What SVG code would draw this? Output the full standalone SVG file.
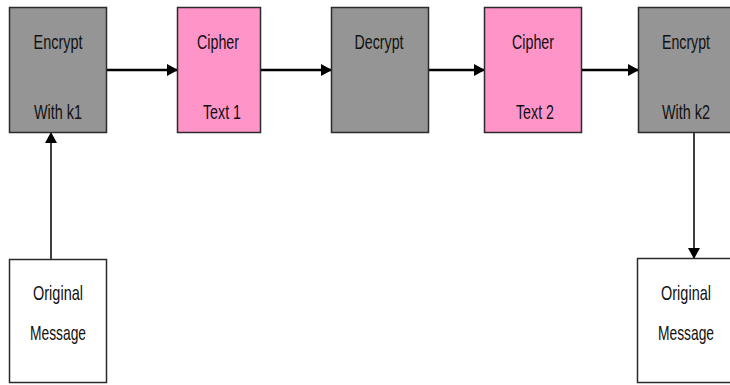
<svg xmlns="http://www.w3.org/2000/svg" width="730" height="385" viewBox="0 0 730 385">
  <style>
    .box { stroke: #2b2b2b; stroke-width: 1.5; }
    .gray { fill: #959595; }
    .pink { fill: #ff94c9; }
    .white { fill: #ffffff; }
    text { font-family: "Liberation Sans Narrow", "Liberation Sans", Arial, sans-serif; font-size: 21px; fill: #111; text-anchor: middle; }
    .link { stroke: #000; fill: none; }
  </style>
  <defs>
    <marker id="arrow" markerWidth="11" markerHeight="12" refX="10" refY="6" orient="auto" markerUnits="userSpaceOnUse">
      <path d="M0,0 L11,6 L0,12 Z" fill="#000"/>
    </marker>
  </defs>

  <!-- arrows between the stages -->
  <g id="connectors">
    <line class="link" x1="107" y1="70" x2="177" y2="70" stroke-width="2.5" marker-end="url(#arrow)"/>
    <line class="link" x1="261" y1="70" x2="331" y2="70" stroke-width="2.5" marker-end="url(#arrow)"/>
    <line class="link" x1="429" y1="70" x2="484" y2="70" stroke-width="2.5" marker-end="url(#arrow)"/>
    <line class="link" x1="582" y1="70" x2="638" y2="70" stroke-width="2.5" marker-end="url(#arrow)"/>
    <line class="link" x1="51" y1="259" x2="51" y2="133" stroke-width="1.5" marker-end="url(#arrow)"/>
    <line class="link" x1="694" y1="133" x2="694" y2="258" stroke-width="1.5" marker-end="url(#arrow)"/>
  </g>

  <g id="encrypt-k1">
    <rect class="box gray" x="9.5" y="7.5" width="97" height="125"/>
    <text x="58" y="49" textLength="49" lengthAdjust="spacingAndGlyphs">Encrypt</text>
    <text x="58" y="119" textLength="48" lengthAdjust="spacingAndGlyphs">With k1</text>
  </g>

  <g id="cipher-text-1">
    <rect class="box pink" x="177.5" y="7.5" width="83" height="125"/>
    <text x="218" y="49" textLength="42" lengthAdjust="spacingAndGlyphs">Cipher</text>
    <text x="222" y="119" textLength="38" lengthAdjust="spacingAndGlyphs">Text 1</text>
  </g>

  <g id="decrypt">
    <rect class="box gray" x="331.5" y="7.5" width="97" height="125"/>
    <text x="379" y="49" textLength="49" lengthAdjust="spacingAndGlyphs">Decrypt</text>
  </g>

  <g id="cipher-text-2">
    <rect class="box pink" x="484.5" y="7.5" width="97" height="125"/>
    <text x="533" y="49" textLength="42" lengthAdjust="spacingAndGlyphs">Cipher</text>
    <text x="535" y="119" textLength="38" lengthAdjust="spacingAndGlyphs">Text 2</text>
  </g>

  <!-- right-hand boxes run up to the page edge -->
  <g id="encrypt-k2">
    <rect class="box gray" x="638.5" y="7.5" width="93" height="125"/>
    <text x="686" y="49" textLength="48" lengthAdjust="spacingAndGlyphs">Encrypt</text>
    <text x="686" y="119" textLength="48" lengthAdjust="spacingAndGlyphs">With k2</text>
  </g>

  <g id="original-message-in">
    <rect class="box white" x="9.5" y="259.5" width="97" height="123"/>
    <text x="58" y="300" textLength="50" lengthAdjust="spacingAndGlyphs">Original</text>
    <text x="58" y="340" textLength="56" lengthAdjust="spacingAndGlyphs">Message</text>
  </g>

  <g id="original-message-out">
    <rect class="box white" x="637.5" y="258.5" width="94" height="124"/>
    <text x="686" y="300" textLength="50" lengthAdjust="spacingAndGlyphs">Original</text>
    <text x="686" y="340" textLength="56" lengthAdjust="spacingAndGlyphs">Message</text>
  </g>
</svg>
